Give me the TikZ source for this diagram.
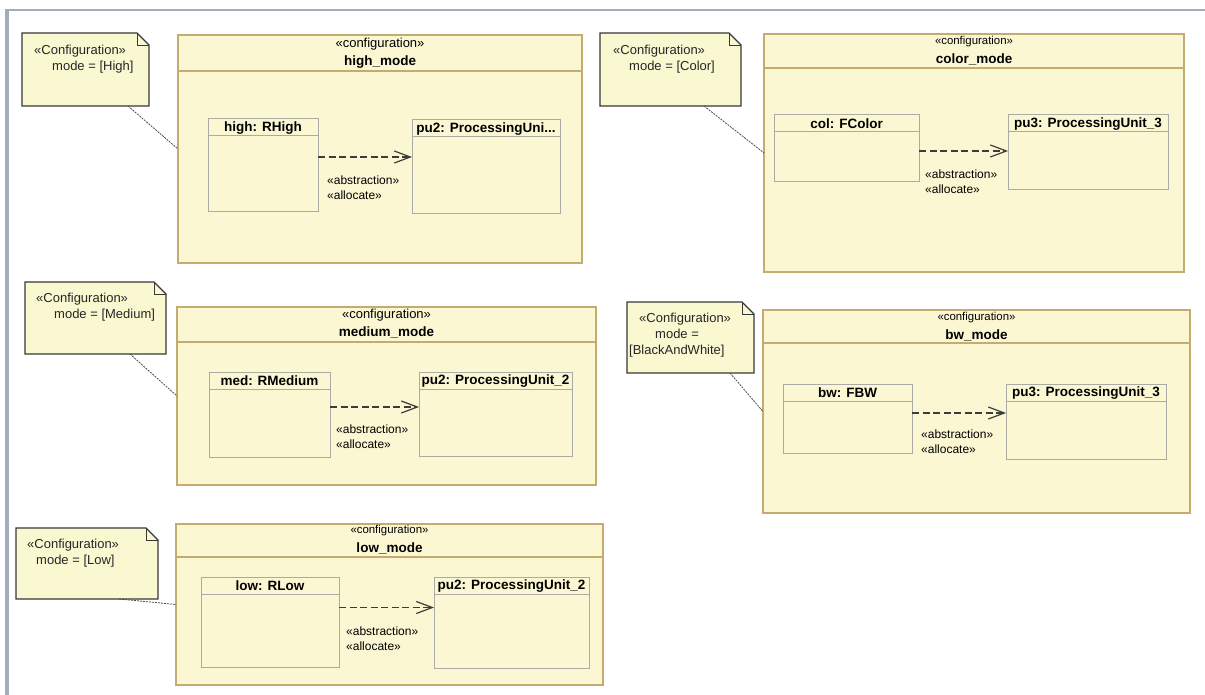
\documentclass[tikz,border=0pt]{standalone}
\usepackage{fontspec}
\setmainfont{Liberation Sans}
\usetikzlibrary{arrows.meta}

\definecolor{modefill}{HTML}{FBF7D2}
\definecolor{modeline}{HTML}{C4AB70}
\definecolor{partline}{HTML}{ABABA6}
\definecolor{notefill}{HTML}{FAF8D0}
\definecolor{noteline}{HTML}{383838}
\definecolor{arrowgray}{HTML}{3C3C3C}
\definecolor{framegray}{HTML}{A3ADBC}

\tikzset{
  modebox/.style={draw=modeline, fill=modefill, line width=1.2pt, inner sep=0pt, outer sep=0pt, anchor=north west},
  partbox/.style={draw=partline, fill=modefill, line width=1pt, inner sep=0pt, outer sep=0pt, anchor=north west},
  notebox/.style={fill=notefill, inner sep=0pt, outer sep=0pt, anchor=north west},
  noteedge/.style={draw=noteline, line width=1.2pt, line join=miter},
  notetext/.style={anchor=north west, inner sep=0pt, align=left, text=black!85, font=\fontsize{13}{16}\selectfont},
  stereo/.style={inner sep=0pt, font=\fontsize{13}{15}\selectfont},
  smallstereo/.style={inner sep=0pt, font=\fontsize{11.4}{13}\selectfont},
  title/.style={inner sep=0pt, font=\fontsize{13.5}{16}\selectfont\bfseries},
  alloc/.style={draw=arrowgray, line width=1.1pt, dash pattern=on 7pt off 3.5pt,
    -{Straight Barb[length=16pt,width=12pt,line width=1.2pt]}},
  alloclabel/.style={anchor=north west, inner sep=0pt, align=left, font=\fontsize{12}{14.7}\selectfont},
  anchorline/.style={draw=black!70, line width=0.8pt, dash pattern=on 2pt off 1pt}
}

\begin{document}
\begin{tikzpicture}[x=1pt,y=-1pt]
  \useasboundingbox (0,0) rectangle (1205,695);
  % window frame
  \fill[framegray] (5,10) rectangle (9,695);
  \draw[framegray, line width=1.5pt] (5,10) -- (1205,10);

  % notes
  \node[notebox, minimum width=127pt, minimum height=73pt] (highnote) at (22,33) {};
  \node[notebox, minimum width=141pt, minimum height=73pt] (colornote) at (600,33) {};
  \node[notebox, minimum width=141pt, minimum height=72pt] (mediumnote) at (25,282) {};
  \node[notebox, minimum width=127pt, minimum height=71pt] (bwnote) at (627,302) {};
  \node[notebox, minimum width=142pt, minimum height=71pt] (lownote) at (16,528) {};
  \foreach \n in {highnote,colornote,mediumnote,bwnote,lownote} {
    \fill[white] ([xshift=-12pt]\n.north east) -- (\n.north east) -- ([yshift=-12pt]\n.north east) -- cycle;
    \draw[noteedge] (\n.north west) -- ([xshift=-12pt]\n.north east) -- ([yshift=-12pt]\n.north east)
      -- (\n.south east) -- (\n.south west) -- cycle;
    \draw[noteedge, line width=0.9pt] ([xshift=-12pt]\n.north east) |- ([yshift=-12pt]\n.north east);
  }
  \node[notetext] (hightxt) at ([xshift=12pt,yshift=-12pt]highnote.north west)
    {«Configuration»\\\hspace*{18pt}mode = [High]};
  \node[notetext] (colortxt) at ([xshift=13pt,yshift=-12pt]colornote.north west)
    {«Configuration»\\\hspace*{16pt}mode = [Color]};
  \node[notetext] (mediumtxt) at ([xshift=11pt,yshift=-11pt]mediumnote.north west)
    {«Configuration»\\\hspace*{18pt}mode = [Medium]};
  \node[notetext] (bwtxt) at ([xshift=2pt,yshift=-11pt]bwnote.north west)
    {\hspace*{10pt}«Configuration»\\\hspace*{26pt}mode =\\{[BlackAndWhite]}};
  \node[notetext] (lowtxt) at ([xshift=11pt,yshift=-11pt]lownote.north west)
    {«Configuration»\\\hspace*{9pt}mode = [Low]};

  % configuration boxes
  \node[modebox, minimum width=404pt, minimum height=228pt] (high) at (178,35) {};
  \node[modebox, minimum width=420pt, minimum height=238pt] (color) at (764,34) {};
  \node[modebox, minimum width=419pt, minimum height=178pt] (medium) at (177,307) {};
  \node[modebox, minimum width=427pt, minimum height=203pt] (bw) at (763,310) {};
  \node[modebox, minimum width=427pt, minimum height=161pt] (low) at (176,524) {};
  \foreach \m/\h in {high/36,color/34,medium/35,bw/33,low/33}
    \draw[modeline, line width=1.2pt] ([yshift=-\h pt]\m.north west) -- ([yshift=-\h pt]\m.north east);

  \node[stereo] (highst) at ([yshift=-9pt]high.north) {«configuration»};
  \node[title] (highnm) at ([yshift=-27pt]high.north) {high\_mode};
  \node[smallstereo] (colorst) at ([yshift=-8pt]color.north) {«configuration»};
  \node[title] (colornm) at ([yshift=-25pt]color.north) {color\_mode};
  \node[stereo] (mediumst) at ([yshift=-8pt]medium.north) {«configuration»};
  \node[title] (mediumnm) at ([yshift=-25pt]medium.north) {medium\_mode};
  \node[smallstereo] (bwst) at ([yshift=-8pt]bw.north) {«configuration»};
  \node[title] (bwnm) at ([yshift=-25pt]bw.north) {bw\_mode};
  \node[smallstereo] (lowst) at ([yshift=-7pt]low.north) {«configuration»};
  \node[title] (lownm) at ([yshift=-24pt]low.north) {low\_mode};

  % parts
  \node[partbox, minimum width=110pt, minimum height=93pt] (hr) at (208,119) {};
  \node[partbox, minimum width=148pt, minimum height=94pt] (hp) at (412,120) {};
  \node[partbox, minimum width=145pt, minimum height=67pt] (cr) at (774,115) {};
  \node[partbox, minimum width=160pt, minimum height=75pt] (cp) at (1008,115) {};
  \node[partbox, minimum width=121pt, minimum height=85pt] (mr) at (209,372) {};
  \node[partbox, minimum width=153pt, minimum height=84pt] (mp) at (419,372) {};
  \node[partbox, minimum width=129pt, minimum height=69pt] (br) at (783,384) {};
  \node[partbox, minimum width=160pt, minimum height=75pt] (bp) at (1006,384) {};
  \node[partbox, minimum width=138pt, minimum height=90pt] (lr) at (201,577) {};
  \node[partbox, minimum width=155pt, minimum height=91pt] (lp) at (434,577) {};
  \foreach \p in {hr,hp,cr,cp,mr,mp,br,bp,lr,lp}
    \draw[partline, line width=1pt] ([yshift=-17pt]\p.north west) -- ([yshift=-17pt]\p.north east);

  \node[title] (hrnm) at ([yshift=-9pt]hr.north) {high: RHigh};
  \node[title] (hpnm) at ([yshift=-9pt]hp.north) {pu2: ProcessingUni...};
  \node[title] (crnm) at ([yshift=-9pt]cr.north) {col: FColor};
  \node[title] (cpnm) at ([yshift=-9pt]cp.north) {pu3: ProcessingUnit\_3};
  \node[title] (mrnm) at ([yshift=-9pt]mr.north) {med: RMedium};
  \node[title] (mpnm) at ([yshift=-9pt]mp.north) {pu2: ProcessingUnit\_2};
  \node[title] (brnm) at ([yshift=-9pt]br.north) {bw: FBW};
  \node[title] (bpnm) at ([yshift=-9pt]bp.north) {pu3: ProcessingUnit\_3};
  \node[title] (lrnm) at ([yshift=-9pt]lr.north) {low: RLow};
  \node[title] (lpnm) at ([yshift=-9pt]lp.north) {pu2: ProcessingUnit\_2};

  % allocations
  \coordinate (ha) at ([yshift=8.5pt]hr.east);
  \coordinate (ca) at ([yshift=-2.5pt]cr.east);
  \coordinate (ma) at ([yshift=7.5pt]mr.east);
  \coordinate (ba) at ([yshift=5.5pt]br.east);
  \coordinate (la) at ([yshift=14.5pt]lr.east);
  \draw[alloc] (ha) -- (ha -| hp.west);
  \draw[alloc] (ca) -- (ca -| cp.west);
  \draw[alloc] (ma) -- (ma -| mp.west);
  \draw[alloc] (ba) -- (ba -| bp.west);
  \draw[alloc] (la) -- (la -| lp.west);
  \node[alloclabel] (halab) at ([xshift=9pt,yshift=-19pt]ha) {«abstraction»\\«allocate»};
  \node[alloclabel] (calab) at ([xshift=6pt,yshift=-19pt]ca) {«abstraction»\\«allocate»};
  \node[alloclabel] (malab) at ([xshift=6pt,yshift=-18pt]ma) {«abstraction»\\«allocate»};
  \node[alloclabel] (balab) at ([xshift=9pt,yshift=-17pt]ba) {«abstraction»\\«allocate»};
  \node[alloclabel] (lalab) at ([xshift=7pt,yshift=-19pt]la) {«abstraction»\\«allocate»};

  % note anchors
  \draw[anchorline] ([xshift=-21pt]highnote.south east) -- (high.west);
  \draw[anchorline] ([xshift=-37pt]colornote.south east) -- (color.west);
  \draw[anchorline] ([xshift=-36pt]mediumnote.south east) -- (medium.west);
  \draw[anchorline] ([xshift=-24pt]bwnote.south east) -- (bw.west);
  \draw[anchorline] ([xshift=-39pt]lownote.south east) -- (low.west);
\end{tikzpicture}
\end{document}
